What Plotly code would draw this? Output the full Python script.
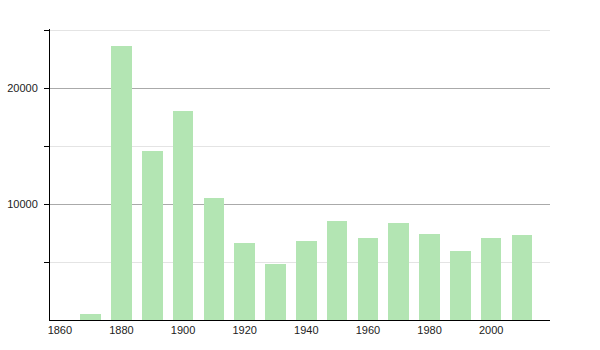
import plotly.graph_objects as go

years = [1870, 1880, 1890, 1900, 1910, 1920, 1930, 1940, 1950, 1960, 1970, 1980, 1990, 2000, 2010]
population = [550, 23600, 14600, 18000, 10550, 6600, 4850, 6850, 8560, 7100, 8330, 7450, 5980, 7100, 7300]
x_ticks = [1860, 1880, 1900, 1920, 1940, 1960, 1980, 2000]
y_ticks = [10000, 20000]

fig = go.Figure(go.Bar(
    x=years, y=population, width=6.7,
    marker=dict(color="#b3e5b3", line=dict(width=0)),
))

fig.update_layout(
    width=600, height=350,
    margin=dict(l=50, r=50, t=29, b=30),
    paper_bgcolor="white", plot_bgcolor="white",
    font=dict(family="Liberation Sans, Arial, sans-serif", size=11, color="#222"),
    showlegend=False,
    bargap=0,
)
fig.update_xaxes(
    range=[1856.8, 2019.1], tickvals=x_ticks, ticktext=[str(v) for v in x_ticks],
    showline=True, linecolor="black", linewidth=1, ticks="", showgrid=False,
    zeroline=False, ticklabelstandoff=0, automargin=False,
)
fig.update_yaxes(
    range=[0, 25100], tickvals=y_ticks, ticktext=[str(v) for v in y_ticks],
    showline=True, linecolor="black", linewidth=1,
    ticks="outside", ticklen=5, tickcolor="black",
    showgrid=True, gridcolor="#aaaaaa", gridwidth=1, zeroline=False,
    minor=dict(tickvals=[5000, 15000, 25000], showgrid=True, gridcolor="#e4e4e4",
               ticks="outside", ticklen=5, tickcolor="black"),
    ticklabelstandoff=4, automargin=False,
)

fig.write_html("out.html")
